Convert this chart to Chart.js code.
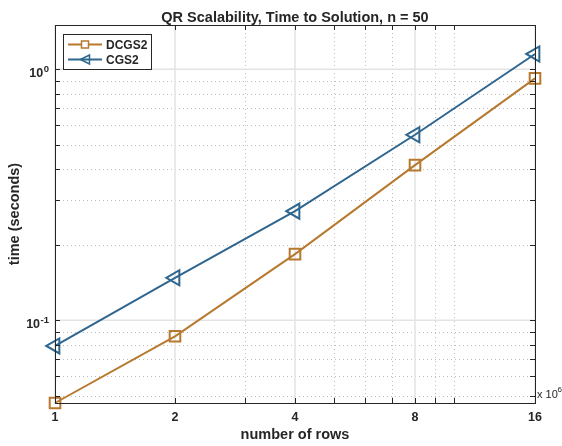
<!DOCTYPE html>
<html>
<head>
<meta charset="utf-8">
<script src="https://cdn.jsdelivr.net/npm/chart.js@4.4.0/dist/chart.umd.min.js"></script>
<style>
  html, body { margin: 0; padding: 0; background: #fff; }
  #wrap { width: 562px; height: 446px; }
</style>
</head>
<body>
<div id="wrap"><canvas id="chart" width="562" height="446"></canvas></div>
<script>
// data (x in millions of rows, y in seconds)
const rows = [1, 2, 4, 8, 16];
const dcgs2 = [0.0468, 0.0863, 0.1834, 0.415, 0.919];
const cgs2 = [0.079, 0.1476, 0.272, 0.548, 1.15];

const xTicks = [1, 2, 4, 8, 16];
const xTickLabels = ["1", "2", "4", "8", "16"];
const xMinor = [3, 5, 6, 7, 9, 10];
const yTicks = [0.1, 1];
const yTickExp = ["-1", "0"];
const yMinor = [0.05, 0.06, 0.07, 0.08, 0.09, 0.2, 0.3, 0.4, 0.5, 0.6, 0.7, 0.8, 0.9];

const seriesNames = ["DCGS2", "CGS2"];
const seriesColors = ["rgb(183,121,46)", "rgb(46,102,143)"];

const TXT = "#262626";
const FONT = "'Liberation Sans', Arial, Helvetica, sans-serif";

const toPoints = (vals) => rows.map((r, i) => ({ x: r, y: vals[i] }));

function line(ctx, x1, y1, x2, y2) {
  ctx.beginPath();
  ctx.moveTo(x1, y1);
  ctx.lineTo(x2, y2);
  ctx.stroke();
}

const matlabAxes = {
  id: "matlabAxes",
  beforeDatasetsDraw(chart) {
    const { ctx, chartArea: a, scales: { x, y } } = chart;
    ctx.save();
    // minor grid, dotted
    ctx.lineWidth = 1;
    ctx.strokeStyle = "#bdbdbd";
    ctx.setLineDash([1, 3]);
    xMinor.forEach((v) => {
      const px = Math.round(x.getPixelForValue(v)) + 0.5;
      line(ctx, px, a.top, px, a.bottom);
    });
    yMinor.forEach((v) => {
      const py = Math.round(y.getPixelForValue(v)) + 0.5;
      line(ctx, a.left, py, a.right, py);
    });
    // major grid, solid
    ctx.setLineDash([]);
    ctx.lineWidth = 1.5;
    ctx.strokeStyle = "#e3e3e3";
    xTicks.forEach((v) => {
      const px = x.getPixelForValue(v);
      line(ctx, px, a.top, px, a.bottom);
    });
    yTicks.forEach((v) => {
      const py = y.getPixelForValue(v);
      line(ctx, a.left, py, a.right, py);
    });
    ctx.restore();
  },
  afterDraw(chart) {
    const { ctx, chartArea: a, scales: { x, y } } = chart;
    ctx.save();
    // box + inward ticks
    ctx.strokeStyle = TXT;
    ctx.lineWidth = 1;
    ctx.strokeRect(a.left + 0.5, a.top + 0.5, a.right - a.left, a.bottom - a.top);
    const tl = 5;
    xTicks.concat(xMinor).forEach((v) => {
      const px = Math.round(x.getPixelForValue(v)) + 0.5;
      line(ctx, px, a.bottom, px, a.bottom - tl);
      line(ctx, px, a.top, px, a.top + tl);
    });
    yTicks.concat(yMinor).forEach((v) => {
      const py = Math.round(y.getPixelForValue(v)) + 0.5;
      line(ctx, a.left, py, a.left + tl, py);
      line(ctx, a.right, py, a.right - tl, py);
    });

    ctx.fillStyle = TXT;
    // title
    ctx.font = "bold 14.5px " + FONT;
    ctx.textAlign = "center";
    ctx.textBaseline = "alphabetic";
    ctx.fillText("QR Scalability, Time to Solution, n = 50", (a.left + a.right) / 2, 21.5);

    // x tick labels
    ctx.font = "bold 12.5px " + FONT;
    xTicks.forEach((v, i) => {
      ctx.fillText(xTickLabels[i], x.getPixelForValue(v), 421);
    });

    // x title
    ctx.font = "bold 14.5px " + FONT;
    ctx.fillText("number of rows", (a.left + a.right) / 2, 439);

    // y title
    ctx.save();
    ctx.translate(19, (a.top + a.bottom) / 2);
    ctx.rotate(-Math.PI / 2);
    ctx.fillText("time (seconds)", 0, 0);
    ctx.restore();

    // y tick labels 10^n
    yTicks.forEach((v, i) => {
      const py = y.getPixelForValue(v);
      ctx.textAlign = "right";
      ctx.font = "bold 9.5px " + FONT;
      const ew = ctx.measureText(yTickExp[i]).width;
      ctx.fillText(yTickExp[i], 49, py + 2.5);
      ctx.font = "bold 12.5px " + FONT;
      ctx.fillText("10", 49 - ew - 0.5, py + 7.5);
    });

    // exponent note for x
    ctx.textAlign = "left";
    ctx.font = "11px " + FONT;
    ctx.fillText("x 10", 537, 397.5);
    ctx.font = "8px " + FONT;
    ctx.fillText("6", 557.5, 392);

    // legend
    const lx = 63.5, ly = 34.5, lw = 88, lh = 35;
    ctx.fillStyle = "#fff";
    ctx.fillRect(lx, ly, lw, lh);
    ctx.strokeStyle = TXT;
    ctx.lineWidth = 1;
    ctx.strokeRect(lx, ly, lw, lh);
    const rowsY = [44.5, 59.5];
    seriesNames.forEach((name, i) => {
      const ry = rowsY[i];
      ctx.strokeStyle = seriesColors[i];
      ctx.lineWidth = 2;
      line(ctx, 68, ry, 102, ry);
      ctx.lineWidth = 1.5;
      ctx.fillStyle = "#fff";
      if (i === 0) {
        ctx.fillRect(81.5, ry - 3.5, 7, 7);
        ctx.strokeRect(81.5, ry - 3.5, 7, 7);
      } else {
        ctx.beginPath();
        ctx.moveTo(80.5, ry);
        ctx.lineTo(89.5, ry - 4.5);
        ctx.lineTo(89.5, ry + 4.5);
        ctx.closePath();
        ctx.stroke();
      }
      ctx.fillStyle = TXT;
      ctx.font = "bold 12px " + FONT;
      ctx.textAlign = "left";
      ctx.fillText(name, 106, ry + 4.5);
    });
    ctx.restore();
  }
};

new Chart(document.getElementById("chart"), {
  type: "scatter",
  data: {
    datasets: [
      {
        label: seriesNames[0],
        data: toPoints(dcgs2),
        showLine: true,
        borderColor: seriesColors[0],
        backgroundColor: "rgba(0,0,0,0)",
        borderWidth: 2,
        pointStyle: "rect",
        pointRadius: 7.5,
        pointBorderWidth: 2,
        clip: false
      },
      {
        label: seriesNames[1],
        data: toPoints(cgs2),
        showLine: true,
        borderColor: seriesColors[1],
        backgroundColor: "rgba(0,0,0,0)",
        borderWidth: 2,
        pointStyle: "triangle",
        pointRotation: -90,
        pointRadius: 8.7,
        pointBorderWidth: 2,
        clip: false
      }
    ]
  },
  options: {
    responsive: false,
    animation: false,
    devicePixelRatio: 1,
    layout: { padding: { left: 0, top: 25, right: 27, bottom: 0 } },
    plugins: {
      legend: { display: false },
      title: { display: false },
      tooltip: { enabled: false }
    },
    scales: {
      x: {
        type: "logarithmic",
        min: 1,
        max: 16,
        grid: { display: false },
        border: { display: false },
        ticks: { display: false },
        afterFit: (s) => { s.height = 43; }
      },
      y: {
        type: "logarithmic",
        min: 0.0468,
        max: 1.5,
        grid: { display: false },
        border: { display: false },
        ticks: { display: false },
        afterFit: (s) => { s.width = 55; }
      }
    }
  },
  plugins: [matlabAxes]
});
</script>
</body>
</html>
